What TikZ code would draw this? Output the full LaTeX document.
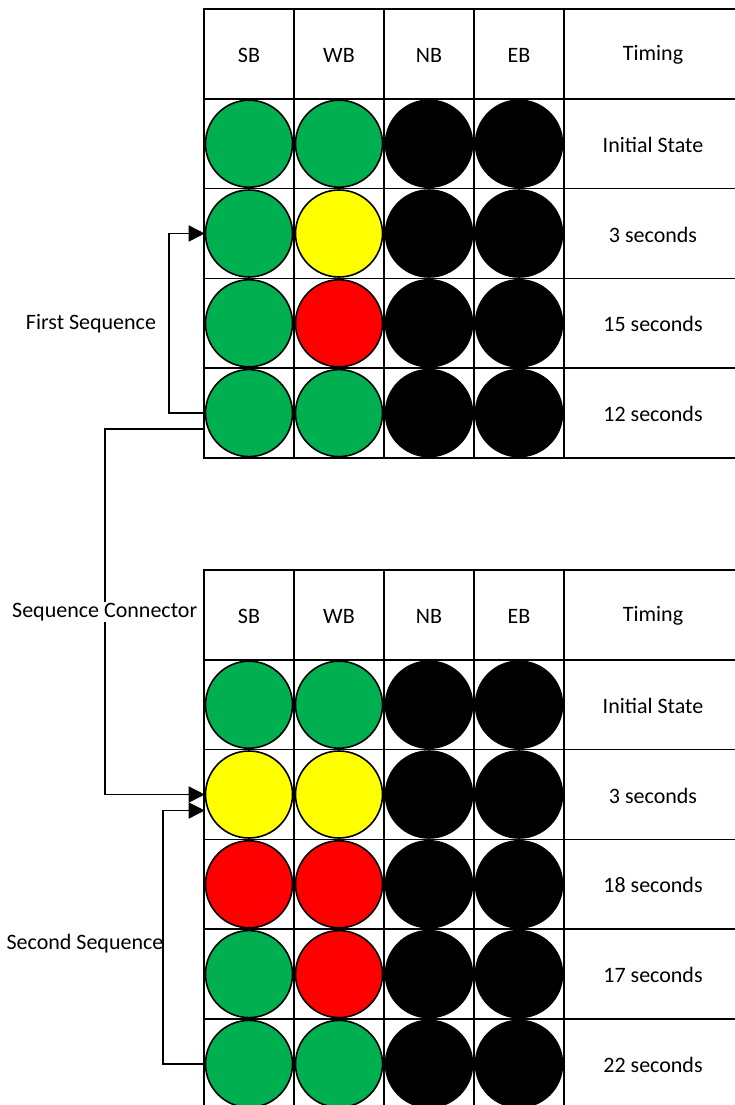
\documentclass[tikz,border=0pt]{standalone}
\usepackage{fontspec}
\setmainfont{Carlito}
\usetikzlibrary{arrows.meta}
\definecolor{sgreen}{HTML}{00B050}
\definecolor{syellow}{HTML}{FFFF00}
\definecolor{sred}{HTML}{FF0000}
\begin{document}
\begin{tikzpicture}[x=1pt,y=-1pt,
  font=\fontsize{22}{26}\selectfont,
  grid/.style={line width=1.6pt},
  lamp/.style={circle, draw, line width=1.6pt, minimum size=87pt, inner sep=0pt},
  arr/.style={line width=1.6pt, -{Triangle[length=16pt,width=16pt]}},
  lbl/.style={inner sep=1pt}]
\useasboundingbox (0,0) rectangle (735,1105);
\clip (0,0) rectangle (735,1105);
% ---------- top table ----------
\draw[grid] (204,9) rectangle (742,458);
\foreach \r in {1,...,4} {\draw[grid] (204,{9+89.8*\r}) -- (742,{9+89.8*\r});}
\foreach \x in {294,384,474,564} {\draw[grid] (\x,9) -- (\x,458);}
\node[lbl] (tSB) at (249,55) {SB};
\node[lbl] (tWB) at (339,55) {WB};
\node[lbl] (tNB) at (429,55) {NB};
\node[lbl] (tEB) at (519,55) {EB};
\node[lbl] (tTim) at (653,55) {Timing};
\foreach \r/\a/\b/\t in {1/sgreen/sgreen/Initial State, 2/sgreen/syellow/3 seconds, 3/sgreen/sred/15 seconds, 4/sgreen/sgreen/12 seconds} {
  \node[lamp, fill=\a] (t\r-sb) at (249,{9+89.8*\r+44.9}) {};
  \node[lamp, fill=\b] (t\r-wb) at (339,{9+89.8*\r+44.9}) {};
  \node[lamp, fill=black] (t\r-nb) at (429,{9+89.8*\r+44.9}) {};
  \node[lamp, fill=black] (t\r-eb) at (519,{9+89.8*\r+44.9}) {};
  \node[lbl] (t\r-tm) at (653,{9+89.8*\r+45.9}) {\t};
}
% ---------- bottom table ----------
\draw[grid] (204,570) rectangle (742,1108.8);
\foreach \r in {1,...,5} {\draw[grid] (204,{570+89.8*\r}) -- (742,{570+89.8*\r});}
\foreach \x in {294,384,474,564} {\draw[grid] (\x,570) -- (\x,1108.8);}
\node[lbl] (bSB) at (249,616) {SB};
\node[lbl] (bWB) at (339,616) {WB};
\node[lbl] (bNB) at (429,616) {NB};
\node[lbl] (bEB) at (519,616) {EB};
\node[lbl] (bTim) at (653,616) {Timing};
\foreach \r/\a/\b/\t in {1/sgreen/sgreen/Initial State, 2/syellow/syellow/3 seconds, 3/sred/sred/18 seconds, 4/sgreen/sred/17 seconds, 5/sgreen/sgreen/22 seconds} {
  \node[lamp, fill=\a] (b\r-sb) at (249,{570+89.8*\r+44.9}) {};
  \node[lamp, fill=\b] (b\r-wb) at (339,{570+89.8*\r+44.9}) {};
  \node[lamp, fill=black] (b\r-nb) at (429,{570+89.8*\r+44.9}) {};
  \node[lamp, fill=black] (b\r-eb) at (519,{570+89.8*\r+44.9}) {};
  \node[lbl] (b\r-tm) at (653,{570+89.8*\r+45.9}) {\t};
}
% ---------- connectors ----------
\draw[arr] (t4-sb.west) -- ++(-36,0) |- (t2-sb.west);
\node[lbl] (firstlbl) at (91,324) {First Sequence};
\draw[arr] ([yshift=-16pt]t4-sb.west) -- ++(-100,0) |- node[pos=0.25, fill=white, inner sep=1pt] (seqlbl) {Sequence Connector} (b2-sb.west);
\draw[arr] (b5-sb.west) -- ++(-42,0) |- ([yshift=-16pt]b2-sb.west);
\node[lbl] (secondlbl) at (85,944) {Second Sequence};
\end{tikzpicture}
\end{document}
